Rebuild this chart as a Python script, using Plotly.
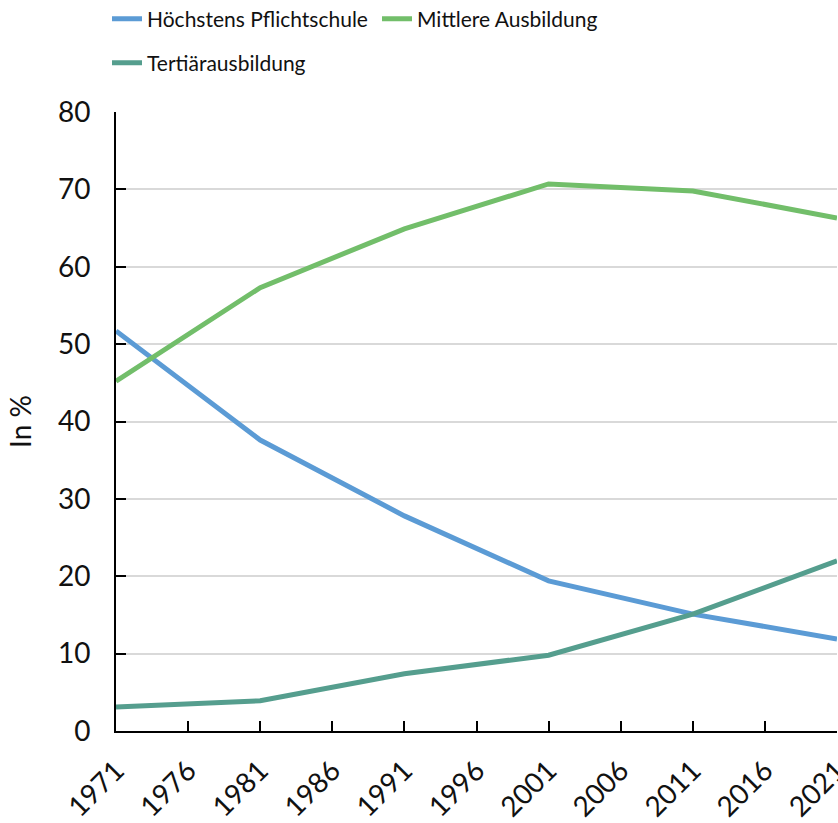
import plotly.graph_objects as go

# Bildungsstand der Bevölkerung, Volkszählungsjahre
years = [1971, 1981, 1991, 2001, 2011, 2021]
pflichtschule = [51.7, 37.6, 27.8, 19.4, 15.1, 11.9]
mittlere = [45.2, 57.3, 64.9, 70.7, 69.8, 66.3]
tertiaer = [3.1, 3.9, 7.4, 9.8, 15.1, 22.0]

tick_years = list(range(1971, 2022, 5))
y_ticks = list(range(0, 81, 10))

FONT = "Lato"
TXT = "#111111"

fig = go.Figure()
fig.add_trace(go.Scatter(x=years, y=pflichtschule, mode="lines", name="Höchstens Pflichtschule",
                         line=dict(color="#5B9BD5", width=5), legend="legend"))
fig.add_trace(go.Scatter(x=years, y=mittlere, mode="lines", name="Mittlere Ausbildung",
                         line=dict(color="#72BE6A", width=5), legend="legend"))
fig.add_trace(go.Scatter(x=years, y=tertiaer, mode="lines", name="Tertiärausbildung",
                         line=dict(color="#559E8E", width=5), legend="legend2"))

legend_common = dict(orientation="h", xanchor="left", yanchor="middle", xref="container", yref="container",
                     font=dict(family=FONT, size=21, color=TXT), bgcolor="rgba(0,0,0,0)",
                     entrywidth=225, traceorder="normal")

fig.update_layout(
    width=838, height=823,
    margin=dict(l=116, r=1, t=112, b=92),
    paper_bgcolor="white", plot_bgcolor="white",
    font=dict(family=FONT, color=TXT),
    legend=dict(x=107 / 838, y=1 - 19 / 823, **legend_common),
    legend2=dict(x=107 / 838, y=1 - 63 / 823, **legend_common),
    xaxis=dict(range=[1971, 2021], tickmode="array", tickvals=tick_years,
               ticktext=[str(t) for t in tick_years], tickangle=-45,
               tickfont=dict(family=FONT, size=28, color=TXT),
               ticklabeloverflow="allow", ticklabelstandoff=10, automargin=False,
               showgrid=False, zeroline=False, showline=True, linecolor="black", linewidth=2,
               ticks="inside", ticklen=10, tickcolor="black", tickwidth=2),
    yaxis=dict(range=[0, 80], tickmode="array", tickvals=y_ticks, automargin=False,
               tickfont=dict(family=FONT, size=28, color=TXT), ticklabelstandoff=18,
               title=dict(text="In %", font=dict(family=FONT, size=28, color=TXT), standoff=18),
               showgrid=True, gridcolor="#D9D9D9", gridwidth=2, zeroline=False,
               showline=True, linecolor="black", linewidth=2,
               ticks="inside", ticklen=10, tickcolor="black", tickwidth=2),
)

fig.write_html("out.html")
